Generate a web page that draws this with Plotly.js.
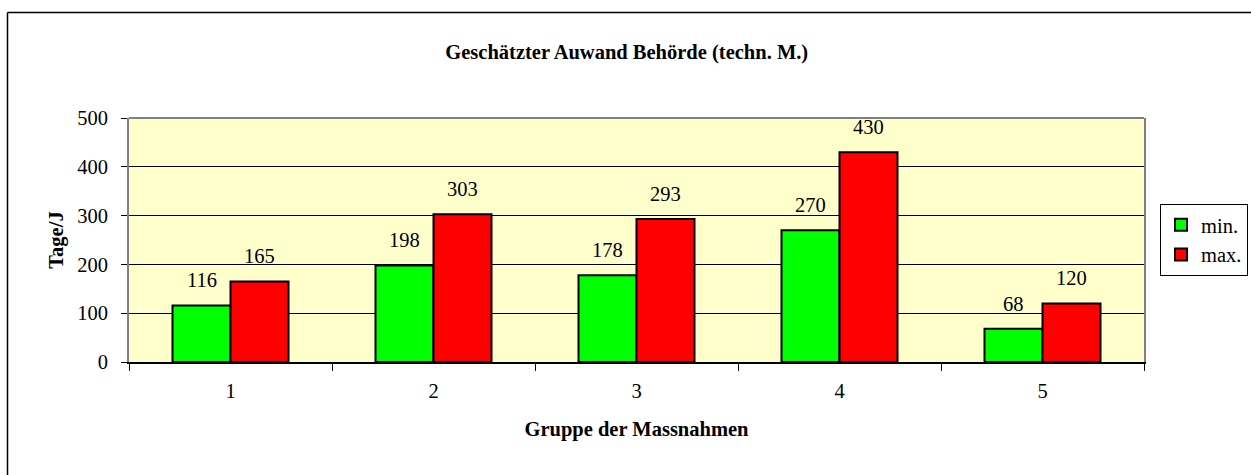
<!DOCTYPE html>
<html>
<head>
<meta charset="utf-8">
<script src="https://cdn.plot.ly/plotly-3.0.1.min.js"></script>
<style>html,body{margin:0;padding:0;background:#fff;}#chart{width:1251px;height:475px;}</style>
</head>
<body>
<div id="chart"></div>
<script>
const categories = ['1', '2', '3', '4', '5'];
const minValues = [116, 198, 178, 270, 68];
const maxValues = [165, 303, 293, 430, 120];
const seriesNames = ['min.', 'max.'];
const yTicks = [0, 100, 200, 300, 400, 500];

const FONT = 'Liberation Serif, Times New Roman, serif';
const FS = 20.5;

const traces = [
  {type: 'bar', name: seriesNames[0], x: categories, y: minValues, legendgroup: 'a',
   marker: {color: '#00FF00', line: {color: '#000', width: 2}}, hoverinfo: 'y'},
  {type: 'bar', name: seriesNames[1], x: categories, y: maxValues, legendgroup: 'b',
   marker: {color: '#FF0000', line: {color: '#000', width: 2}}, hoverinfo: 'y'}
];

const annotations = [];
[minValues, maxValues].forEach((vals, si) => {
  vals.forEach((v, i) => {
    annotations.push({x: i, y: v, xref: 'x', yref: 'y', text: String(v),
      showarrow: false, yanchor: 'bottom', xshift: si === 0 ? -29 : 29, yshift: 12,
      font: {family: FONT, size: FS, color: '#000'}});
  });
});

const layout = {
  width: 1251, height: 475,
  margin: {l: 129, r: 107, t: 118, b: 113, autoexpand: false},
  paper_bgcolor: '#fff', plot_bgcolor: '#FFFFCC',
  font: {family: FONT, size: FS, color: '#000'},
  title: {text: '<b>Geschätzter Auwand Behörde (techn. M.)</b>', xref: 'container', x: 0.501,
          y: 1 - 52 / 475, yanchor: 'middle', font: {family: FONT, size: FS, color: '#000'}},
  barmode: 'group', bargap: 0.4286, bargroupgap: 0,
  xaxis: {type: 'category', range: [-0.5, 4.5], tickson: 'boundaries', ticks: 'outside', ticklen: 7, tickcolor: '#000',
          showline: true, linecolor: '#000', linewidth: 1.5, showgrid: false, zeroline: false,
          tickfont: {family: FONT, size: FS}, ticklabelstandoff: 10,
          title: {text: '<b>Gruppe der Massnahmen</b>', standoff: 20, font: {family: FONT, size: FS}}},
  yaxis: {range: [0, 500], tickvals: yTicks, ticks: 'outside', ticklen: 6, tickcolor: '#000',
          showline: true, linecolor: '#808080', linewidth: 2, mirror: true,
          showgrid: true, gridcolor: '#000', gridwidth: 1, zeroline: false,
          tickfont: {family: FONT, size: FS}, ticklabelstandoff: 9,
          title: {text: '<b>Tage/J</b>', standoff: 8, font: {family: FONT, size: FS}}},
  legend: {x: 1.0158, xanchor: 'left', y: 0.5, yanchor: 'middle', bgcolor: '#fff',
           bordercolor: '#000', borderwidth: 1, tracegroupgap: 6, traceorder: 'normal',
           font: {family: FONT, size: FS, color: '#000'}, itemwidth: 30},
  annotations: annotations,
  shapes: [
    {type: 'line', xref: 'paper', yref: 'paper', x0: 0, x1: 1, y0: 1, y1: 1,
     line: {color: '#808080', width: 2}},
    {type: 'line', xref: 'paper', yref: 'paper', x0: -0.1197, x1: -0.1197, y0: -2, y1: 1.4324,
     line: {color: '#000', width: 1.5}},
    {type: 'line', xref: 'paper', yref: 'paper', x0: -0.1197, x1: 1.3, y0: 1.4324, y1: 1.4324,
     line: {color: '#000', width: 1.5}}
  ],
  showlegend: true
};

Plotly.newPlot('chart', traces, layout, {displayModeBar: false, staticPlot: true});
</script>
</body>
</html>
